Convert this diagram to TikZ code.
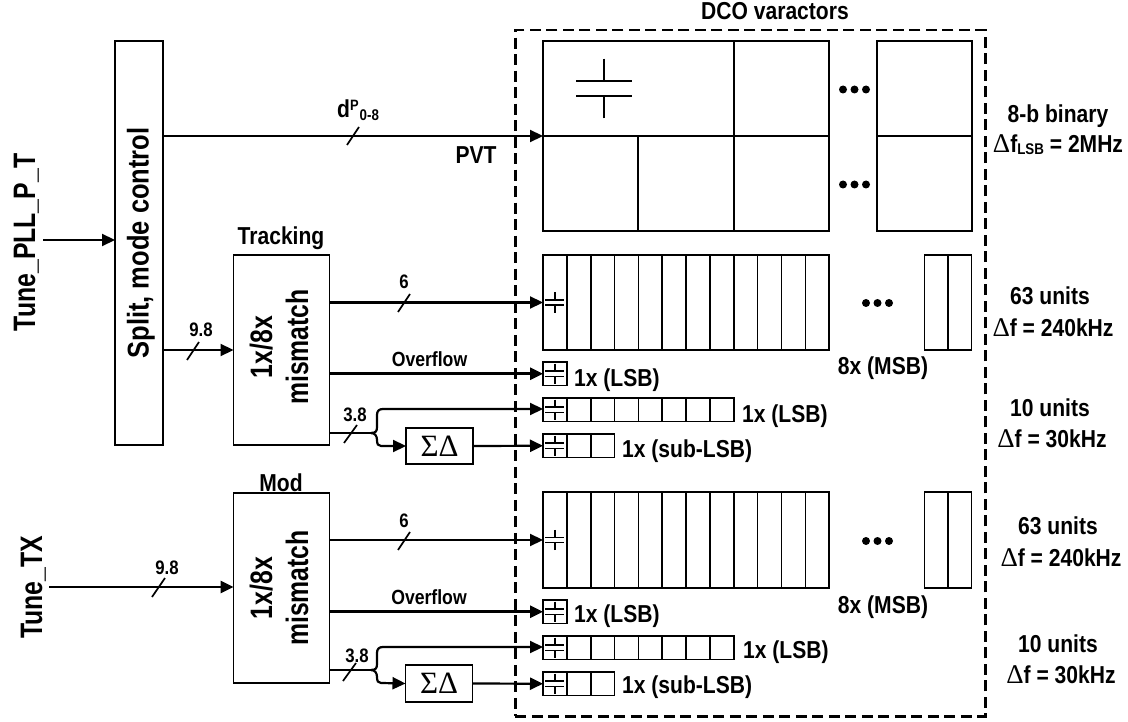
\documentclass[tikz,border=0pt]{standalone}
\usepackage{fontspec}
\setmainfont{Liberation Sans}
\newfontfamily\lblfont[FakeStretch=0.86]{Liberation Sans}
\newfontfamily\bigfont[FakeStretch=0.80]{Liberation Sans}
\newfontfamily\splitfont[FakeStretch=0.85]{Liberation Sans}
\newfontfamily\symfont{Liberation Serif}
\usetikzlibrary{arrows.meta,calc}
\tikzset{
  x=1pt,y=-1pt,
  cellbox/.style={draw,line width=1.6pt,minimum width=#1,inner sep=0,outer sep=0},
  blockbox/.style={draw,line width=1.9pt,inner sep=0,outer sep=0},
  sig/.style={-{Triangle[length=13pt,width=12pt]},line width=2.2pt},
  thick sig/.style={-{Triangle[length=13pt,width=12pt]},line width=2.8pt},
  wire/.style={line width=2.2pt},
  tickmark/.style={line width=1.7pt},
  lbl/.style={font=\lblfont\fontsize{24.5}{26}\selectfont\bfseries,inner sep=0,anchor=base},
  lbl west/.style={lbl,anchor=base west},
  mid lbl/.style={font=\lblfont\fontsize{20.5}{22}\selectfont\bfseries,inner sep=0,anchor=base},
  small lbl/.style={font=\lblfont\fontsize{19.5}{21}\selectfont\bfseries,inner sep=0,anchor=base},
  big lbl/.style={font=\bigfont\fontsize{31}{36}\selectfont\bfseries,inner sep=0,anchor=base,rotate=90},
  two lbl/.style={font=\bigfont\fontsize{31}{36}\selectfont\bfseries,inner sep=0,align=center,rotate=90},
  split lbl/.style={font=\splitfont\fontsize{30}{32}\selectfont\bfseries,inner sep=0,anchor=base,rotate=90},
  dots lbl/.style={circle,fill,minimum size=8pt,inner sep=0,outer sep=0},
}
\newcommand{\Dl}{{\symfont\mdseries\fontsize{27}{27}\selectfont Δ}}
\newcommand{\capmark}[3][1.4pt]{% width, centre, half size
  \draw[line width=#1] ($(#2)+(-#3,-#3*0.28)$) -- ($(#2)+(#3,-#3*0.28)$);
  \draw[line width=#1] ($(#2)+(-#3,#3*0.28)$) -- ($(#2)+(#3,#3*0.28)$);
  \draw[line width=#1] ($(#2)+(0,-#3*1.07)$) -- ($(#2)+(0,-#3*0.28)$);
  \draw[line width=#1] ($(#2)+(0,#3*1.07)$) -- ($(#2)+(0,#3*0.28)$);
}
\newcommand{\cellrow}[5]{% prefix, x0, ytop, count, cellheight
  \foreach \i in {1,...,#4}{
    \node[cellbox=23.85pt,minimum height=#5 pt,anchor=north west] (#1\i) at ({#2+(\i-1)*23.85},#3) {};
  }
}
\begin{document}
\begin{tikzpicture}
\useasboundingbox (0,0) rectangle (1128,722);
% dashed frame
\node[draw,line width=2.5pt,dash pattern=on 11pt off 5.5pt,minimum width=470pt,minimum height=686pt,inner sep=0,anchor=north west] (frame) at (514,29) {};
\node[lbl] (title) at (775,20) {DCO varactors};
% PVT array
\node[cellbox=191pt,minimum height=95pt,anchor=north west] (pA) at (543,41) {};
\node[cellbox=95pt,minimum height=95pt,anchor=north west] (pB) at (734,41) {};
\node[cellbox=95pt,minimum height=95pt,anchor=north west] (pC) at (543,136) {};
\node[cellbox=96pt,minimum height=95pt,anchor=north west] (pD) at (638,136) {};
\node[cellbox=95pt,minimum height=95pt,anchor=north west] (pE) at (734,136) {};
\node[cellbox=95pt,minimum height=95pt,anchor=north west] (pF) at (877,41) {};
\node[cellbox=95pt,minimum height=95pt,anchor=north west] (pG) at (877,136) {};
\coordinate (pcap) at (604,88.5);
\capmark[2.2pt]{pcap}{28}
\foreach \n/\y in {a/89.5,b/184.5}{
  \foreach \k/\x in {1/843,2/854.5,3/866}{
    \node[dots lbl] (d\n\k) at (\x,\y) {};
  }
}
% Blocks
\node[blockbox,minimum width=48pt,minimum height=404pt,anchor=north west] (split) at (115,41) {};
\node[split lbl] (splitT) at (148.5,243) {Split, mode control};
\node[blockbox,minimum width=96pt,minimum height=190pt,anchor=north west] (track) at (233.5,255) {};
\node[two lbl] (trackT) at (279,347) {1x/8x\\mismatch};
\node[lbl] (trackL) at (281,245) {Tracking};
\node[blockbox,minimum width=96pt,minimum height=190pt,anchor=north west] (mod) at (233.5,493) {};
\node[two lbl] (modT) at (279,588) {1x/8x\\mismatch};
\node[lbl] (modL) at (281,491) {Mod};
\node[big lbl] (tpll) at (35,242.5) {Tune\_PLL\_P\_T};
\node[big lbl] (ttx) at (42,587.5) {Tune\_TX};
\coordinate (tplls) at (43,240);
\coordinate (ttxs) at (49,587);
\draw[sig] (tplls) -- (tplls -| split.west);
\draw[thick sig] (ttxs) -- (ttxs -| mod.west);
\draw[tickmark] (152,597) -- (165,578);
\node[small lbl] (l98b) at (167,574) {9.8};
% PVT wire
\draw[sig] (split.east |- pC.north west) -- (pC.north west);
\draw[tickmark] (347,145) -- (359,127);
\node[lbl,anchor=base west] (dp) at (337,118) {d\raisebox{7pt}{\fontsize{15}{15}\selectfont\bfseries P}\hspace{1pt}\raisebox{-3pt}{\fontsize{15.5}{15}\selectfont\bfseries 0-8}};
\node[lbl] (pvt) at (476,164) {PVT};
\coordinate (sm) at (162,350);
\draw[sig] (sm) -- (sm -| track.west);
\draw[tickmark] (187,360) -- (199,342);
\node[small lbl] (l98a) at (201,337) {9.8};
% tracking arrays
\cellrow{ta}{543}{255}{12}{95}
\node[cellbox=23.5pt,minimum height=95pt,anchor=north west] (tb1) at (924.5,255) {};
\node[cellbox=23.5pt,minimum height=95pt,anchor=north west] (tb2) at (948,255) {};
\capmark{ta1}{9.5}
\foreach \k/\x in {1/866,2/877.5,3/889}{
  \node[dots lbl] (dt\k) at (\x,303) {};
}
\draw[sig] (track.east |- ta1.west) -- (ta1.west);
\draw[tickmark] (398,312) -- (410,294);
\node[small lbl] (l6a) at (404,289) {6};
\node[mid lbl] (ofa) at (429.5,366) {Overflow};
\cellrow{tc}{543}{362}{1}{23.5}
\capmark{tc1}{9.5}
\draw[thick sig] (track.east |- tc1.west) -- (tc1.west);
\node[lbl west] (tc1L) at (574,386) {1x (LSB)};
\cellrow{td}{543}{398}{8}{23.5}
\capmark{td1}{9.5}
\node[lbl west] (td1L) at (742,422) {1x (LSB)};
\cellrow{te}{543}{434}{3}{23.5}
\capmark{te1}{9.5}
\node[lbl west] (te1L) at (622,457) {1x (sub-LSB)};
\node[lbl] (tmsb) at (883,374) {8x (MSB)};
\node[blockbox,minimum width=67pt,minimum height=36pt,anchor=north west] (sda) at (406,428) {\fontsize{31}{31}\symfont ΣΔ};
\coordinate (fa) at (371,433);
\draw[wire] (track.east |- fa) -- (fa);
\draw[sig] (fa) .. controls (376,433) and (377,431) .. (377,427) -- (377,415) .. controls (377,411) and (379,409) .. (383,409) -- (td1.west |- 0,409);
\draw[sig] (fa) .. controls (375,433) and (377,436) .. (377,440) .. controls (377,444) and (378,446) .. (381,446) -- (sda.west);
\draw[sig] (sda.east) -- (te1.west);
\draw[tickmark] (344,443) -- (357,425);
\node[small lbl] (l38a) at (355,421) {3.8};
% mod arrays
\cellrow{ma}{543}{492}{12}{96}
\node[cellbox=23.5pt,minimum height=96pt,anchor=north west] (mb1) at (924.5,492) {};
\node[cellbox=23.5pt,minimum height=96pt,anchor=north west] (mb2) at (948,492) {};
\capmark{ma1}{9.5}
\foreach \k/\x in {1/866,2/877.5,3/889}{
  \node[dots lbl] (dm\k) at (\x,541) {};
}
\draw[sig] (mod.east |- ma1.west) -- (ma1.west);
\draw[tickmark] (398,550) -- (410,532);
\node[small lbl] (l6b) at (404,527) {6};
\node[mid lbl] (ofb) at (429,604) {Overflow};
\cellrow{mc}{543}{600}{1}{23.5}
\capmark{mc1}{9.5}
\draw[thick sig] (mod.east |- mc1.west) -- (mc1.west);
\node[lbl west] (mc1L) at (574,622) {1x (LSB)};
\cellrow{md}{543}{636}{8}{23.5}
\capmark{md1}{9.5}
\node[lbl west] (md1L) at (743,658) {1x (LSB)};
\cellrow{me}{543}{672}{3}{23.5}
\capmark{me1}{9.5}
\node[lbl west] (me1L) at (622,693) {1x (sub-LSB)};
\node[lbl] (mmsb) at (883,613) {8x (MSB)};
\node[blockbox,minimum width=67pt,minimum height=37pt,anchor=north west] (sdb) at (405.5,665) {\fontsize{31}{31}\symfont ΣΔ};
\coordinate (fb) at (371,670);
\draw[wire] (mod.east |- fb) -- (fb);
\draw[sig] (fb) .. controls (376,670) and (377,668) .. (377,664) -- (377,653) .. controls (377,649) and (379,647) .. (383,647) -- (md1.west |- 0,647);
\draw[sig] (fb) .. controls (375,670) and (377,673) .. (377,677) .. controls (377,681) and (378,683) .. (381,683) -- (sdb.west);
\draw[sig] (sdb.east) -- (me1.west);
\draw[tickmark] (343,681) -- (356,663);
\node[small lbl] (l38b) at (357,662) {3.8};
% right labels
\node[lbl] (r1) at (1058,122.5) {8-b binary};
\node[lbl] (r2) at (1058,153) {\Dl f\raisebox{-2pt}{\fontsize{15.5}{15}\selectfont\bfseries LSB} = 2MHz};
\node[lbl] (r3) at (1050,305) {63 units};
\node[lbl] (r4) at (1053,336) {\Dl f = 240kHz};
\node[lbl] (r5) at (1050,416) {10 units};
\node[lbl] (r6) at (1052,447) {\Dl f = 30kHz};
\node[lbl] (r7) at (1058,534) {63 units};
\node[lbl] (r8) at (1061,566) {\Dl f = 240kHz};
\node[lbl] (r9) at (1058,652) {10 units};
\node[lbl] (r10) at (1061,683) {\Dl f = 30kHz};
\end{tikzpicture}
\end{document}
